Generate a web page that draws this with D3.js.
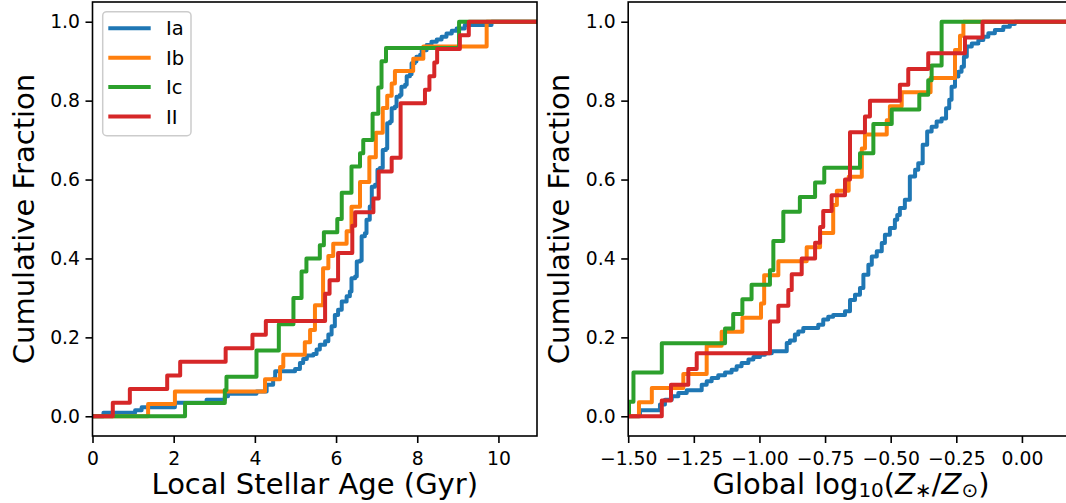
<!DOCTYPE html>
<html>
<head>
<meta charset="utf-8">
<script src="https://cdn.jsdelivr.net/npm/d3@7"></script>
<style>
  body { margin: 0; background: #fff; }
  svg { display: block; font-family: "DejaVu Sans", sans-serif; }
</style>
</head>
<body>
<svg id="chart" width="1066" height="503"></svg>
<script>
// Cumulative distributions of SN host properties, one step curve per type.
const TYPES = ["Ia", "Ib", "Ic", "II"];
const COLORS = ["#1f77b4", "#ff7f0e", "#2ca02c", "#d62728"];

const AGE_TICKS = [0, 2, 4, 6, 8, 10];
const Z_TICKS = [-1.5, -1.25, -1.0, -0.75, -0.5, -0.25, 0.0];
const FRAC_TICKS = [0, 0.2, 0.4, 0.6, 0.8, 1.0];

// Left panel: local stellar age (Gyr) of each jump and the cumulative value after it.
const ageIaX = [0.27, 1.05, 1.21, 2.03, 2.81, 3.26, 3.34, 4.04, 4.29, 4.45, 4.50, 4.99, 5.11, 5.19, 5.28,
  5.44, 5.52, 5.60, 5.73, 5.81, 5.89, 5.97, 6.05, 6.14, 6.26, 6.34, 6.38, 6.47, 6.51, 6.59, 6.63, 6.71,
  6.75, 6.83, 6.88, 6.96, 7.02, 7.08, 7.15, 7.23, 7.26, 7.33, 7.37, 7.45, 7.49, 7.57, 7.61, 7.70, 7.74,
  7.82, 7.86, 7.94, 7.98, 8.07, 8.11, 8.23, 8.35, 8.48, 8.60, 8.72, 8.85, 8.97, 9.17, 9.83];
const ageIaFrac = [0.009, 0.015, 0.023, 0.034, 0.042, 0.051, 0.057, 0.063, 0.080, 0.095, 0.114, 0.120, 0.135,
  0.145, 0.154, 0.158, 0.169, 0.181, 0.190, 0.207, 0.228, 0.257, 0.270, 0.291, 0.304, 0.316, 0.350, 0.354,
  0.392, 0.395, 0.456, 0.464, 0.498, 0.532, 0.582, 0.587, 0.625, 0.629, 0.675, 0.679, 0.743, 0.747, 0.781,
  0.785, 0.810, 0.814, 0.835, 0.840, 0.862, 0.867, 0.895, 0.899, 0.911, 0.916, 0.928, 0.941, 0.949, 0.955,
  0.962, 0.970, 0.977, 0.983, 0.992, 1.0];
const ageIbX = [1.37, 2.03, 4.25, 4.62, 4.70, 5.23, 5.36, 5.48, 5.68, 5.81, 5.93, 6.26, 6.38, 6.59, 6.82,
  6.98, 7.15, 7.26, 7.37, 7.45, 7.90, 8.15, 9.71];
const ageIbCount = [1, 2, 3, 4, 5, 6, 7, 9, 12, 13, 14, 15, 17, 19, 21, 23, 25, 26, 27, 28, 29, 30, 32];
const ageIbN = 32;
const ageIcX = [2.28, 3.26, 3.30, 4.04, 4.59, 4.95, 5.15, 5.27, 5.60, 5.70, 6.03, 6.14, 6.38, 6.59, 6.67,
  6.90, 7.04, 7.12, 7.23, 9.03];
const ageIcCount = [1, 2, 3, 5, 7, 9, 11, 12, 13, 14, 15, 17, 19, 20, 21, 23, 25, 27, 28, 30];
const ageIcN = 30;
const ageIIX = [0.50, 0.92, 1.84, 2.16, 3.28, 3.94, 4.27, 5.73, 5.84, 6.05, 6.40, 6.47, 6.92, 7.05, 7.37,
  7.59, 8.19, 8.30, 8.42, 8.49, 9.05, 9.27];
const ageIICount = [1, 2, 3, 4, 5, 6, 7, 9, 10, 12, 14, 15, 16, 18, 19, 23, 24, 25, 26, 27, 28, 29];
const ageIIN = 29;

// Right panel: global log10(Z*/Zsun).
const metIaX = [-1.455, -1.379, -1.360, -1.334, -1.309, -1.277, -1.220, -1.201, -1.182, -1.157, -1.131,
  -1.106, -1.087, -1.068, -1.042, -1.023, -0.998, -0.979, -0.953, -0.896, -0.884, -0.865, -0.852, -0.833,
  -0.776, -0.757, -0.738, -0.719, -0.674, -0.655, -0.636, -0.617, -0.604, -0.585, -0.572, -0.553, -0.534,
  -0.522, -0.503, -0.484, -0.475, -0.465, -0.446, -0.427, -0.407, -0.395, -0.378, -0.361, -0.344, -0.325,
  -0.306, -0.289, -0.277, -0.268, -0.255, -0.242, -0.230, -0.221, -0.210, -0.191, -0.166, -0.147, -0.128,
  -0.103, -0.071, -0.046, -0.027];
const metIaFrac = [0.015, 0.030, 0.042, 0.051, 0.059, 0.066, 0.080, 0.089, 0.097, 0.104, 0.111, 0.118, 0.127,
  0.135, 0.144, 0.150, 0.156, 0.160, 0.165, 0.186, 0.192, 0.207, 0.215, 0.224, 0.232, 0.245, 0.252, 0.257,
  0.266, 0.295, 0.308, 0.325, 0.359, 0.384, 0.405, 0.418, 0.439, 0.460, 0.477, 0.498, 0.510, 0.528, 0.549,
  0.608, 0.625, 0.641, 0.688, 0.722, 0.734, 0.747, 0.755, 0.781, 0.802, 0.835, 0.861, 0.873, 0.886, 0.911,
  0.937, 0.945, 0.954, 0.962, 0.971, 0.979, 0.987, 0.994, 1.0];
const metIbX = [-1.459, -1.410, -1.290, -1.201, -1.144, -1.065, -0.994, -0.982, -0.928, -0.820, -0.769,
  -0.719, -0.705, -0.660, -0.610, -0.598, -0.515, -0.503, -0.458, -0.348, -0.255, -0.236, -0.223];
const metIbCount = [1, 2, 3, 5, 6, 7, 8, 10, 11, 12, 13, 15, 16, 17, 19, 20, 21, 22, 23, 24, 26, 27, 28];
const metIbN = 28;
const metIcX = [-1.497, -1.480, -1.372, -1.131, -1.100, -1.065, -1.030, -0.960, -0.947, -0.909, -0.846,
  -0.788, -0.753, -0.617, -0.566, -0.496, -0.391, -0.357, -0.344, -0.306];
const metIcCount = [1, 3, 5, 6, 7, 8, 9, 10, 12, 14, 15, 16, 17, 18, 20, 21, 22, 23, 24, 27];
const metIcN = 27;
const metIIX = [-1.372, -1.337, -1.271, -1.239, -0.960, -0.928, -0.890, -0.877, -0.839, -0.788, -0.769,
  -0.757, -0.725, -0.674, -0.655, -0.598, -0.579, -0.465, -0.433, -0.357, -0.217, -0.150];
const metIICount = [1, 2, 3, 4, 6, 7, 8, 9, 10, 11, 12, 13, 14, 15, 18, 19, 20, 21, 22, 23, 24, 25];
const metIIN = 25;

const frac = (counts, n) => counts.map((c) => c / n);

const panels = [
  {
    x0: 92.5, x1: 537, domain: [0, 10.95], ticks: AGE_TICKS, fmt: d3.format("d"),
    series: [
      [ageIaX, ageIaFrac], [ageIbX, frac(ageIbCount, ageIbN)],
      [ageIcX, frac(ageIcCount, ageIcN)], [ageIIX, frac(ageIICount, ageIIN)],
    ],
    legend: true, ylabX: 33.5,
  },
  {
    x0: 628.2, x1: 1071.8, domain: [-1.5, 0.19], ticks: Z_TICKS, fmt: d3.format(".2f"),
    series: [
      [metIaX, metIaFrac], [metIbX, frac(metIbCount, metIbN)],
      [metIcX, frac(metIcCount, metIcN)], [metIIX, frac(metIICount, metIIN)],
    ],
    legend: false, ylabX: 568.5,
  },
];

const TOP = 2, BOTTOM = 436;
const TICK_FONT = 18.8, LABEL_FONT = 29;
const svg = d3.select("#chart");
const y = d3.scaleLinear([-0.05, 1.05], [BOTTOM, TOP]);

panels.forEach((p, pi) => {
  const x = d3.scaleLinear(p.domain, [p.x0, p.x1]);
  const clipId = `clip-${pi}`;
  svg.append("clipPath").attr("id", clipId).append("rect")
    .attr("x", p.x0).attr("y", TOP).attr("width", p.x1 - p.x0).attr("height", BOTTOM - TOP);

  const line = d3.line().curve(d3.curveStepAfter).x((d) => x(d[0])).y((d) => y(d[1]));
  const g = svg.append("g").attr("clip-path", `url(#${clipId})`);
  p.series.forEach(([xs, ys], i) => {
    const pts = [[p.domain[0], 0]].concat(xs.map((v, k) => [v, ys[k]]));
    pts.push([p.domain[1], ys[ys.length - 1]]);
    g.append("path").datum(pts).attr("d", line)
      .attr("fill", "none").attr("stroke", COLORS[i]).attr("stroke-width", 4)
      .attr("stroke-linejoin", "round");
  });

  // frame
  svg.append("rect").attr("x", p.x0).attr("y", TOP).attr("width", p.x1 - p.x0).attr("height", BOTTOM - TOP)
    .attr("fill", "none").attr("stroke", "#000").attr("stroke-width", 1.6);

  const xAxis = svg.append("g").attr("transform", `translate(0,${BOTTOM})`)
    .call(d3.axisBottom(x).tickValues(p.ticks).tickFormat(p.fmt).tickSize(7).tickPadding(9).tickSizeOuter(0));
  const yAxis = svg.append("g").attr("transform", `translate(${p.x0},0)`)
    .call(d3.axisLeft(y).tickValues(FRAC_TICKS).tickFormat(d3.format(".1f")).tickSize(7).tickPadding(5.5).tickSizeOuter(0));
  [xAxis, yAxis].forEach((a) => {
    a.select(".domain").remove();
    a.selectAll(".tick line").attr("stroke", "#000").attr("stroke-width", 1.6);
    a.selectAll(".tick text").attr("fill", "#000")
      .style("font-family", '"DejaVu Sans", sans-serif').style("font-size", `${TICK_FONT}px`);
  });

  svg.append("text").attr("transform", `translate(${p.ylabX},${(TOP + BOTTOM) / 2}) rotate(-90)`)
    .attr("text-anchor", "middle").style("font-size", `${LABEL_FONT}px`).text("Cumulative Fraction");

  if (p.legend) {
    const lg = svg.append("g");
    lg.append("rect").attr("x", 102.7).attr("y", 11.7).attr("width", 88.3).attr("height", 124)
      .attr("rx", 4).attr("fill", "#fff").attr("fill-opacity", 0.8)
      .attr("stroke", "#cccccc").attr("stroke-width", 1.5);
    TYPES.forEach((t, i) => {
      const ly = 28.3 + i * 29.4;
      lg.append("line").attr("x1", 108.3).attr("x2", 150.7).attr("y1", ly).attr("y2", ly)
        .attr("stroke", COLORS[i]).attr("stroke-width", 4);
      lg.append("text").attr("x", 166).attr("y", ly).attr("dy", "0.36em")
        .style("font-size", "19.5px").text(t);
    });
  }
});

// x-axis titles
svg.append("text").attr("x", (92.5 + 537) / 2).attr("y", 494).attr("text-anchor", "middle")
  .style("font-size", `${LABEL_FONT}px`).text("Local Stellar Age (Gyr)");

const SUB = 3;
const zl = svg.append("text").attr("x", 851).attr("y", 494).attr("text-anchor", "middle")
  .style("font-size", `${LABEL_FONT}px`);
zl.append("tspan").text("Global log");
zl.append("tspan").attr("dy", SUB).style("font-size", "20px").text("10");
zl.append("tspan").attr("dy", -SUB).text("(");
zl.append("tspan").style("font-style", "italic").text("Z");
zl.append("tspan").attr("dy", SUB).style("font-size", "20px").text("∗");
zl.append("tspan").attr("dy", -SUB).text("/");
zl.append("tspan").style("font-style", "italic").text("Z");
zl.append("tspan").attr("dy", SUB).style("font-size", "20px").text("⊙");
zl.append("tspan").attr("dy", -SUB).text(")");
</script>
</body>
</html>
